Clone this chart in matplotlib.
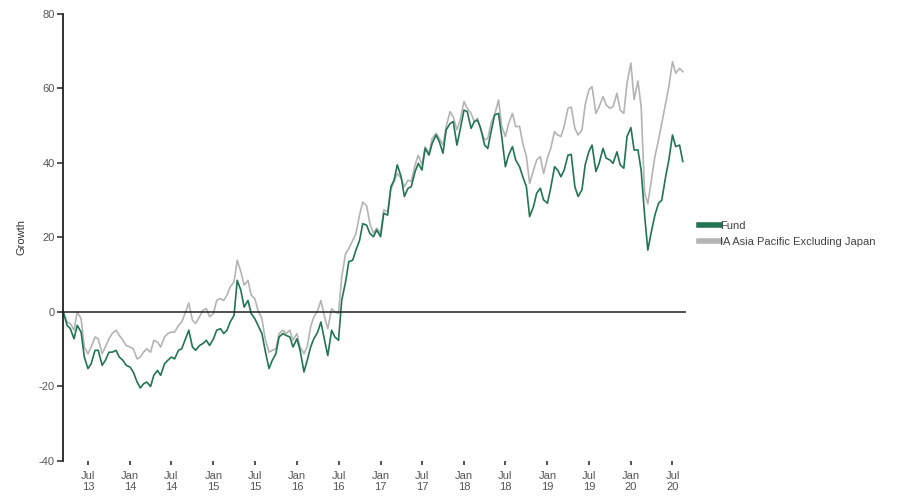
import pandas as pd
import matplotlib.pyplot as plt

plt.rcParams['font.family'] = ['Liberation Sans', 'DejaVu Sans']
plt.rcParams['axes.unicode_minus'] = False

# semi-monthly readings, Mar 2013 - Aug 2020
fund = [
    0, -3.6, -4.5, -7.2, -3.6, -5.4, -12.1, -15.2, -13.9, -10.3,
    -10.3, -14.3, -13, -10.8, -10.8, -10.3, -12.1, -13, -14.3, -14.8,
    -16.1, -18.8, -20.4, -19.3, -18.8, -20, -17, -15.7, -17, -13.9,
    -13, -12.1, -12.6, -10.3, -9.9, -7.2, -4.9, -9.4, -10.3, -9,
    -8.5, -7.6, -9, -7.2, -4.9, -4.5, -5.8, -4.9, -2.7, -0.9,
    8.5, 5.8, 1.3, 3.1, -0.4, -1.8, -3.6, -5.8, -10.3, -15.2,
    -13, -11.2, -6.7, -5.8, -6.3, -6.7, -9.4, -7.2, -10.3, -16.1,
    -13, -9.4, -7.2, -5.4, -2.7, -7.6, -11.7, -4.9, -6.7, -7.6,
    3.1, 8.1, 13.5,
    13.9, 16.6, 19.2, 23.7, 23.3, 21.1, 20.2, 22, 20.2, 26.5,
    26, 33.6, 35.4, 39.5, 36.3, 31, 33.2, 33.6, 37.7, 39.9,
    38.1, 43.9, 42.1, 45.3, 47.5, 45.7, 42.6, 48.9, 50.6, 51.1,
    44.8, 48.9, 54.2, 53.8, 49.3, 51.1, 51.5, 49.3, 44.8, 43.9,
    48.9, 52.9, 53.3, 47.1, 39, 42.1, 44.4, 40.8, 39, 36.3,
    33.6, 25.6, 28.3, 31.9, 33.2, 30.1, 29.2, 33.2, 39, 38.1,
    36.3, 38.1, 42.1, 42.3, 33.6, 31, 32.8, 39.5, 43, 44.8,
    37.7, 39.9, 43.9, 41.3, 40.8, 39.9, 43, 39.5, 38.6, 47.1,
    49.5, 43.5, 43.5, 38, 26, 16.6, 22, 26, 29.2, 30,
    36.3, 40.8, 47.5, 44.4, 44.8, 40.4,
]

sector = [
    0, -2.7, -3.1, -4.9, 0, -1.8, -9.4, -11.2, -9.4, -6.7,
    -7.2, -11.2, -9.4, -7.2, -5.8, -4.9, -6.3, -7.6, -9, -9.4,
    -9.9, -12.6, -12.1, -10.8, -9.9, -10.8, -7.6, -8.1, -9.4, -6.7,
    -5.8, -5.4, -5.4, -3.6, -2.7, 0, 2.4, -2.2, -3.1, -1.3,
    0.4, 0.9, -1.3, -0.4, 3.1, 3.6, 3.1, 4.5, 6.7, 8.1,
    13.9, 10.8, 7.2, 8.5, 4.5, 3.6, 0.4, -1.8, -7.2, -10.8,
    -10.3, -9.9, -5.8, -4.9, -5.8, -4.9, -7.6, -5.8, -9.4, -11.2,
    -9.4, -4, -1.3, 0.4, 3.1, -1.3, -4.5, 0.9, 0, -0.4,
    9.4, 15.7, 17,
    19.2, 21, 26, 29.5, 28.5, 23.8, 21.1, 22.5, 21.1, 27.4,
    26.9, 32.8, 35, 37.2, 35.9, 33.6, 35.4, 35, 39.5, 42.1,
    39.5, 44.4, 42.6, 46.6, 48, 46.6, 44.8, 49.8, 53.8, 52.4,
    48.9, 51.5, 56.5, 54.7, 53.3, 51.1, 52, 48.9, 46.2, 46.6,
    51.1, 52.9, 56.9, 49.8, 47.1, 50.6, 53.3, 49.8, 49.8, 45.3,
    41.7, 34.5, 38.1, 40.8, 41.7, 37.2, 41.3, 43.9, 48.4, 47.5,
    47.1, 49.8, 54.7, 55, 49.3, 47.5, 48.9, 55.6, 59.6, 60.5,
    53.3, 55.1, 57.8, 55.6, 54.7, 55.1, 58.7, 54.2, 53.3, 61.4,
    66.8, 57, 62, 55, 32, 29, 36, 41.7, 46.2, 50.6,
    56, 60.5, 67.2, 64.1, 65.4, 64.5,
]

dates = pd.date_range("2013-03-15", periods=len(fund), freq="SMS")
tick_dates = pd.date_range("2013-07-01", "2020-07-01", freq="6MS")
tick_labels = [d.strftime("%b\n%y") for d in tick_dates]

fig = plt.figure(figsize=(9.11, 4.99), dpi=100)
ax = fig.add_axes([0.0692, 0.0762, 0.6838, 0.8958])

ax.plot(dates, sector, color="#b4b4b4", lw=1.2, label="IA Asia Pacific Excluding Japan")
ax.plot(dates, fund, color="#217552", lw=1.2, label="Fund")
ax.axhline(0, color="#222222", lw=1.1)

ax.set_xlim(pd.Timestamp("2013-03-14"), pd.Timestamp("2020-08-29"))
ax.set_ylim(-40, 80)
ax.set_yticks(range(-40, 81, 20))
ax.set_xticks(tick_dates)
ax.set_xticklabels(tick_labels)

for s in ["top", "right", "bottom"]:
    ax.spines[s].set_visible(False)
ax.spines["left"].set_color("#222222")
ax.spines["left"].set_linewidth(1.3)
ax.tick_params(axis="y", length=4, width=1.1, color="#222222", labelsize=8, labelcolor="#555555", pad=2)
ax.tick_params(axis="x", length=3, width=1.1, color="#222222", labelsize=8, labelcolor="#555555", pad=4)
ax.set_ylabel("Growth", fontsize=8, color="#333333", labelpad=9)

handles, labels = ax.get_legend_handles_labels()
leg = fig.legend(handles[::-1], labels[::-1], loc="upper left", bbox_to_anchor=(0.762, 0.567),
                 frameon=False, fontsize=8, handlelength=1.9, handletextpad=0.05,
                 labelspacing=0.6, borderaxespad=0)
for line in leg.get_lines():
    line.set_linewidth(4)
for t in leg.get_texts():
    t.set_color("#444444")

fig.savefig("out.png", dpi=100)
